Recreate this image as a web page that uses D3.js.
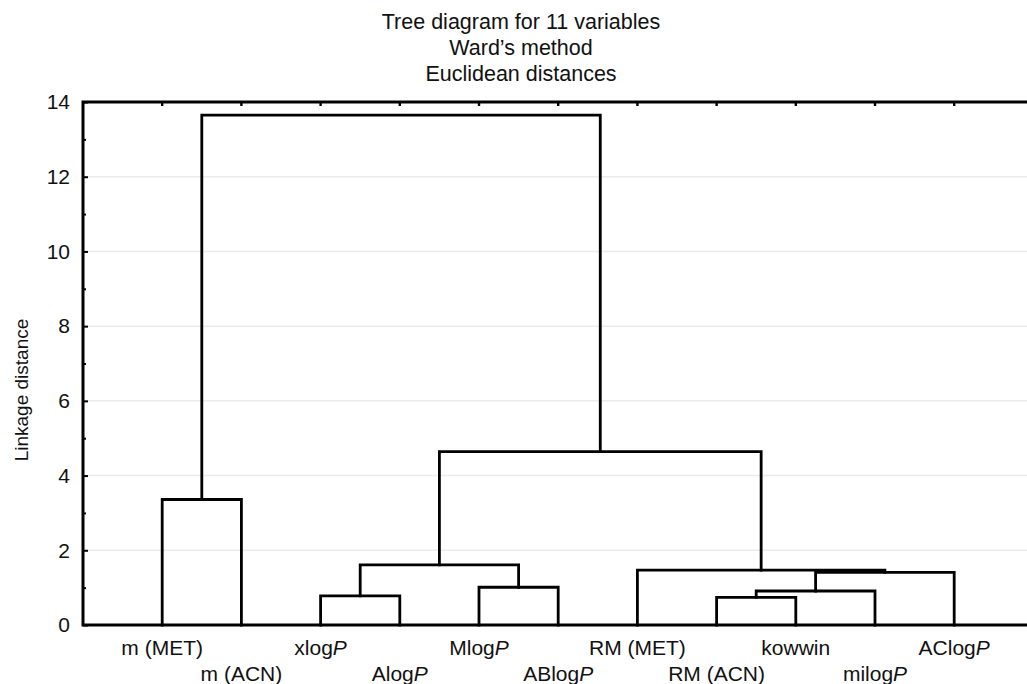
<!DOCTYPE html>
<html>
<head>
<meta charset="utf-8">
<script src="https://cdn.jsdelivr.net/npm/d3@7"></script>
<style>
    body { margin: 0; background: #fff; }
    text { font-family: "Liberation Sans", Arial, sans-serif; fill: #111; }
</style>
</head>
<body>
<div id="vis"></div>
<script>
/* Statistica style tree diagram (dendrogram), Ward's method */

// Leaves in drawing order
var leaves = ["m (MET)", "m (ACN)", "xlogP", "AlogP", "MlogP", "ABlogP",
              "RM (MET)", "RM (ACN)", "kowwin", "milogP", "AClogP"];

// Linkage: [left, right, distance], new cluster ids start at leaves.length
var mergeLeft  = [7, 0, 2, 11, 4, 14, 6, 13, 18, 12];
var mergeRight = [8, 1, 3, 9, 5, 10, 16, 15, 17, 19];
var mergeDist  = [0.74, 3.36, 0.78, 0.91, 1.01, 1.41, 1.47, 1.61, 4.64, 13.65];

var yTicks = [0, 2, 4, 6, 8, 10, 12, 14];
var titleLines = ["Tree diagram for 11 variables", "Ward\u2019s method", "Euclidean distances"];

var width = 1027;
var height = 684;
var margin = { top: 102, left: 83, bottom: 59 };

var svg = d3.select("#vis").append("svg").attr("width", width).attr("height", height);

// x: leaf slot (1..11) ; y: linkage distance
var xScale = d3.scaleLinear().domain([0, 12]).range([margin.left, margin.left + 12 * 79.2]);
var yScale = d3.scaleLinear().domain([0, 14]).range([height - margin.bottom, margin.top]);

// Gridlines
svg.append("g").selectAll("line")
    .data(yTicks.filter(function(d) { return d > 0 && d < 14; }))
    .enter().append("line")
    .attr("x1", xScale(0)).attr("x2", xScale(12))
    .attr("y1", function(d) { return yScale(d); })
    .attr("y2", function(d) { return yScale(d); })
    .attr("stroke", "#ececec").attr("stroke-width", 1.5);

// Node positions
var nodeX = leaves.map(function(d, i) { return xScale(i + 1); });
var nodeY = leaves.map(function() { return yScale(0); });
var links = [];
for (var i = 0; i < mergeDist.length; i++) {
    var a = mergeLeft[i], b = mergeRight[i];
    var yy = yScale(mergeDist[i]);
    links.push({ x1: nodeX[a], y1: nodeY[a], x2: nodeX[b], y2: nodeY[b], y: yy });
    nodeX.push((nodeX[a] + nodeX[b]) / 2);
    nodeY.push(yy);
}

svg.append("g").selectAll("path")
    .data(links)
    .enter().append("path")
    .attr("d", function(d) {
        return "M" + d.x1 + "," + d.y1 + "V" + d.y + "H" + d.x2 + "V" + d.y2;
    })
    .attr("fill", "none")
    .attr("stroke", "#000")
    .attr("stroke-width", 2.8)
    .attr("stroke-linejoin", "miter")
    .attr("stroke-linecap", "square");

// Frame
svg.append("rect")
    .attr("x", xScale(0)).attr("y", yScale(14))
    .attr("width", xScale(12) - xScale(0))
    .attr("height", yScale(0) - yScale(14))
    .attr("fill", "none").attr("stroke", "#000").attr("stroke-width", 3);

// Top ticks (inward)
svg.append("g").selectAll("line")
    .data(leaves)
    .enter().append("line")
    .attr("x1", function(d, i) { return xScale(i + 1); })
    .attr("x2", function(d, i) { return xScale(i + 1); })
    .attr("y1", yScale(14)).attr("y2", yScale(14) + 4)
    .attr("stroke", "#000").attr("stroke-width", 2.4);

// Y axis: major ticks with labels, minor ticks at odd values
var yAxis = d3.axisLeft(yScale).tickValues(yTicks).tickSizeInner(-5).tickSizeOuter(0).tickPadding(13);
var gy = svg.append("g").attr("transform", "translate(" + xScale(0) + ",0)").call(yAxis);
gy.select(".domain").remove();
gy.selectAll("line").attr("stroke", "#000").attr("stroke-width", 2);
gy.selectAll("text").style("font-size", "21px").style("font-family", "Liberation Sans, Arial, sans-serif").attr("fill", "#111");

var yMinor = d3.axisLeft(yScale).tickValues([1, 3, 5, 7, 9, 11, 13]).tickSizeInner(-3).tickSizeOuter(0).tickFormat("");
var gm = svg.append("g").attr("transform", "translate(" + xScale(0) + ",0)").call(yMinor);
gm.select(".domain").remove();
gm.selectAll("line").attr("stroke", "#000").attr("stroke-width", 2);

// Leaf labels, staggered on two rows, "P" in italics
var labels = svg.append("g").selectAll("text")
    .data(leaves)
    .enter().append("text")
    .attr("x", function(d, i) { return xScale(i + 1); })
    .attr("y", function(d, i) { return i % 2 === 0 ? 655 : 681; })
    .attr("text-anchor", "middle")
    .style("font-size", "21px");

labels.each(function(d) {
    var t = d3.select(this);
    if (/logP$/.test(d)) {
        t.append("tspan").text(d.slice(0, -1));
        t.append("tspan").style("font-style", "italic").text("P");
    } else {
        t.text(d);
    }
});

// Title
svg.append("g").selectAll("text")
    .data(titleLines)
    .enter().append("text")
    .attr("x", 521)
    .attr("y", function(d, i) { return 29 + i * 26; })
    .attr("text-anchor", "middle")
    .style("font-size", "21.5px")
    .text(function(d) { return d; });

// Y axis title
svg.append("text")
    .attr("transform", "translate(28,390) rotate(-90)")
    .attr("text-anchor", "middle")
    .style("font-size", "19px")
    .text("Linkage distance");
</script>
</body>
</html>
